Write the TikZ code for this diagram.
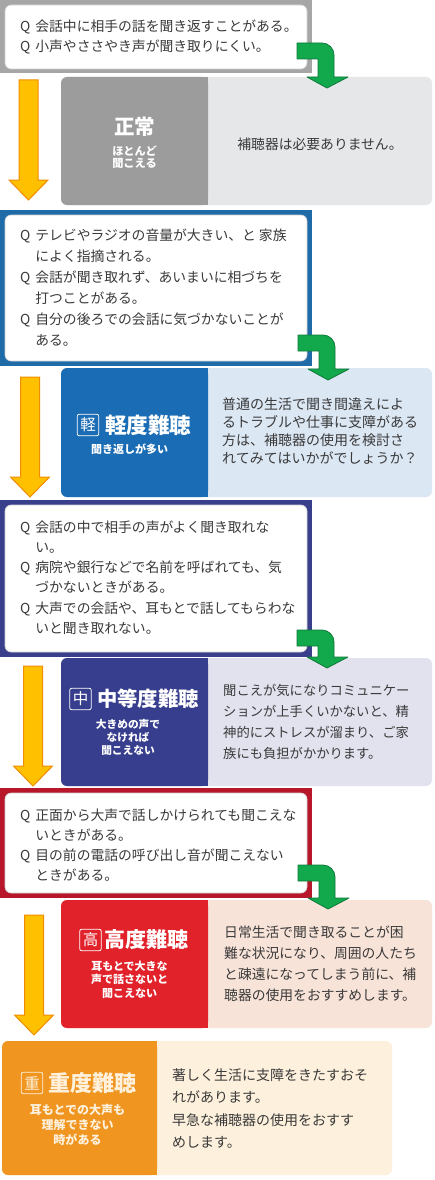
\documentclass[tikz,border=0pt]{standalone}
\usepackage{fontspec}
\setmainfont{Noto Sans CJK JP}
\definecolor{txt}{HTML}{3A3A3A}
\definecolor{frGray}{HTML}{A6A6A6}
\definecolor{dGray}{HTML}{9C9C9C}
\definecolor{lGray}{HTML}{E6E7E9}
\definecolor{frBlue}{HTML}{1F6BA8}
\definecolor{dBlue}{HTML}{1A6CB4}
\definecolor{lBlue}{HTML}{DCE7F4}
\definecolor{frNavy}{HTML}{3A3F8C}
\definecolor{dNavy}{HTML}{373E8D}
\definecolor{lNavy}{HTML}{E1E2EE}
\definecolor{frRed}{HTML}{B8162B}
\definecolor{dRed}{HTML}{E1222A}
\definecolor{lRed}{HTML}{F8E3D8}
\definecolor{dOrange}{HTML}{EF9520}
\definecolor{lOrange}{HTML}{FDF0DC}
\definecolor{cream}{HTML}{FFF1DC}
\definecolor{grF}{HTML}{12A84C}
\definecolor{grD}{HTML}{0E7A3A}
\definecolor{orF}{HTML}{FFC000}
\definecolor{orD}{HTML}{F08C00}
\newcommand\Qm{\makebox[1.1em][l]{Q}}
\newcommand\Qi{\hspace*{1.1em}}
\tikzset{
  qtext/.style={anchor=west, align=left, inner sep=0pt, text=txt, font=\fontsize{13.8}{#1}\selectfont},
  rtext/.style={anchor=west, align=left, inner sep=0pt, text=txt},
  ttl/.style={anchor=west, inner sep=0pt, text=white, font=\bfseries\fontsize{#1}{#1}\selectfont},
  kbox/.style={draw=white, rounded corners=2pt, line width=0.8pt, inner sep=0pt, text=white, font=\fontsize{15.5}{15.5}\selectfont, minimum size=21.5pt},
  subt/.style={align=center, inner sep=0pt, text=white},
  whitebox/.style={fill=white, draw=black!20, line width=0.6pt, rounded corners=6pt},
  greenarrow/.style={fill=grF, draw=grD, line width=0.8pt, line join=round},
  orangearrow/.style={fill=orF, draw=orD, line width=1pt, line join=miter},
  pics/garrow/.style={code={
    \draw[greenarrow] (0,0) -- (25,0) arc[start angle=90,end angle=0,radius=12]
      -- (37,-#1) -- (51,-#1) -- (30,-#1-11) -- (10,-#1) -- (21,-#1)
      -- (21,-16) -- (0,-16) -- cycle;}},
  pics/oarrow/.style={code={
    \draw[orangearrow] (-9.5,0) -- (9.5,0) -- (9.5,-100) -- (19.5,-100)
      -- (0,-120) -- (-19.5,-100) -- (-9.5,-100) -- cycle;}},
}
\begin{document}
\begin{tikzpicture}[x=1pt,y=1pt]
\useasboundingbox (0,0) rectangle (435,-1180);
\fill[white] (0,0) rectangle (435,-1180);

% ---------- section 1
\fill[frGray] (0,0) rectangle (312,-73);
\draw[whitebox] (5,-5) rectangle (307,-69);
\node[qtext=20] (q1) at (20,-37) {\Qm 会話中に相手の話を聞き返すことがある。\\\Qm 小声やささやき声が聞き取りにくい。};

\fill[lGray, rounded corners=6pt] (61,-77) rectangle (432,-205);
\fill[dGray, rounded corners=6pt] (61,-77) rectangle (208,-205);
\fill[dGray] (198,-77) rectangle (208,-205);
\node[inner sep=0pt, text=white, font=\bfseries\fontsize{20.5}{20.5}\selectfont] (t1) at (134.5,-127) {正常};
\node[subt, font=\bfseries\fontsize{11.2}{12.5}\selectfont] (s1) at (134.5,-157) {ほとんど\\聞こえる};
\node[inner sep=0pt, text=txt, font=\fontsize{13.8}{20}\selectfont] (r1) at (320,-144) {補聴器は必要ありません。};

% ---------- section 2
\fill[frBlue] (0,-210) rectangle (312,-366);
\draw[whitebox] (5,-215) rectangle (307,-361);
\node[qtext=21] (q2) at (20,-287.5) {\Qm テレビやラジオの音量が大きい、と 家族\\\Qi によく指摘される。\\\Qm 会話が聞き取れず、あいまいに相づちを\\\Qi 打つことがある。\\\Qm 自分の後ろでの会話に気づかないことが\\\Qi ある。};

\fill[lBlue, rounded corners=6pt] (61,-368) rectangle (432,-497);
\fill[dBlue, rounded corners=6pt] (61,-368) rectangle (208,-497);
\fill[dBlue] (198,-368) rectangle (208,-497);
\node[kbox] (k2) at (88,-425) {軽};
\node[ttl=21.5] (t2) at (105,-425) {軽度難聴};
\node[subt, font=\bfseries\fontsize{11}{13}\selectfont] (s2) at (129.5,-449) {聞き返しが多い};
\node[rtext, font=\fontsize{14}{18.3}\selectfont] (r2) at (222,-431) {普通の生活で聞き間違えによ\\るトラブルや仕事に支障がある\\方は、補聴器の使用を検討さ\\れてみてはいかがでしょうか？};

% ---------- section 3
\fill[frNavy] (0,-500) rectangle (312,-657);
\draw[whitebox] (5,-505) rectangle (307,-652);
\node[qtext=20.3] (q3) at (20,-577.5) {\Qm 会話の中で相手の声がよく聞き取れな\\\Qi い。\\\Qm 病院や銀行などで名前を呼ばれても、気\\\Qi づかないときがある。\\\Qm 大声での会話や、耳もとで話してもらわな\\\Qi いと聞き取れない。};

\fill[lNavy, rounded corners=6pt] (61,-658) rectangle (432,-786);
\fill[dNavy, rounded corners=6pt] (61,-658) rectangle (208,-786);
\fill[dNavy] (198,-658) rectangle (208,-786);
\node[kbox] (k3) at (80.5,-699) {中};
\node[ttl=20.3] (t3) at (97,-699) {中等度難聴};
\node[subt, font=\bfseries\fontsize{10.7}{13}\selectfont] (s3) at (128,-737) {大きめの声で\\なければ\\聞こえない};
\node[rtext, font=\fontsize{13.3}{21}\selectfont] (r3) at (223,-721.5) {聞こえが気になりコミュニケー\\ションが上手くいかないと、精\\神的にストレスが溜まり、ご家\\族にも負担がかかります。};

% ---------- section 4
\fill[frRed] (0,-788) rectangle (312,-898);
\draw[whitebox] (5,-793) rectangle (307,-893);
\node[qtext=20] (q4) at (20,-845) {\Qm 正面から大声で話しかけられても聞こえな\\\Qi いときがある。\\\Qm 目の前の電話の呼び出し音が聞こえない\\\Qi ときがある。};

\fill[lRed, rounded corners=6pt] (61,-900) rectangle (432,-1028);
\fill[dRed, rounded corners=6pt] (61,-900) rectangle (208,-1028);
\fill[dRed] (198,-900) rectangle (208,-1028);
\node[kbox] (k4) at (90.5,-940) {高};
\node[ttl=21] (t4) at (104,-940) {高度難聴};
\node[subt, font=\bfseries\fontsize{11}{13.5}\selectfont] (s4) at (129.5,-979.5) {耳もとで大きな\\声で話さないと\\聞こえない};
\node[rtext, font=\fontsize{13.8}{21}\selectfont] (r4) at (224,-963.5) {日常生活で聞き取ることが困\\難な状況になり、周囲の人たち\\と疎遠になってしまう前に、補\\聴器の使用をおすすめします。};

% ---------- section 5
\fill[lOrange, rounded corners=6pt] (2,-1041) rectangle (392,-1175);
\fill[dOrange, rounded corners=6pt] (2,-1041) rectangle (157,-1175);
\fill[dOrange] (147,-1041) rectangle (157,-1175);
\node[kbox, draw=cream, text=cream] (k5) at (32,-1083) {重};
\node[ttl=22, text=cream] (t5) at (48,-1083) {重度難聴};
\node[subt, text=cream, font=\bfseries\fontsize{12}{15}\selectfont] (s5) at (77.5,-1125) {耳もとでの大声も\\理解できない\\時がある};
\node[rtext, font=\fontsize{14}{22.3}\selectfont] (r5) at (172,-1108.5) {著しく生活に支障をきたすおそ\\れがあります。\\早急な補聴器の使用をおすす\\めします。};

% ---------- arrows
\pic at (28.5,-80) {oarrow};
\pic at (30,-377) {oarrow};
\pic at (33,-666) {oarrow};
\pic at (34,-915) {oarrow};
\pic at (297,-43) {garrow=34};
\pic at (298,-335) {garrow=34};
\pic at (297,-630) {garrow=27};
\pic at (298,-865) {garrow=33};
\end{tikzpicture}
\end{document}
